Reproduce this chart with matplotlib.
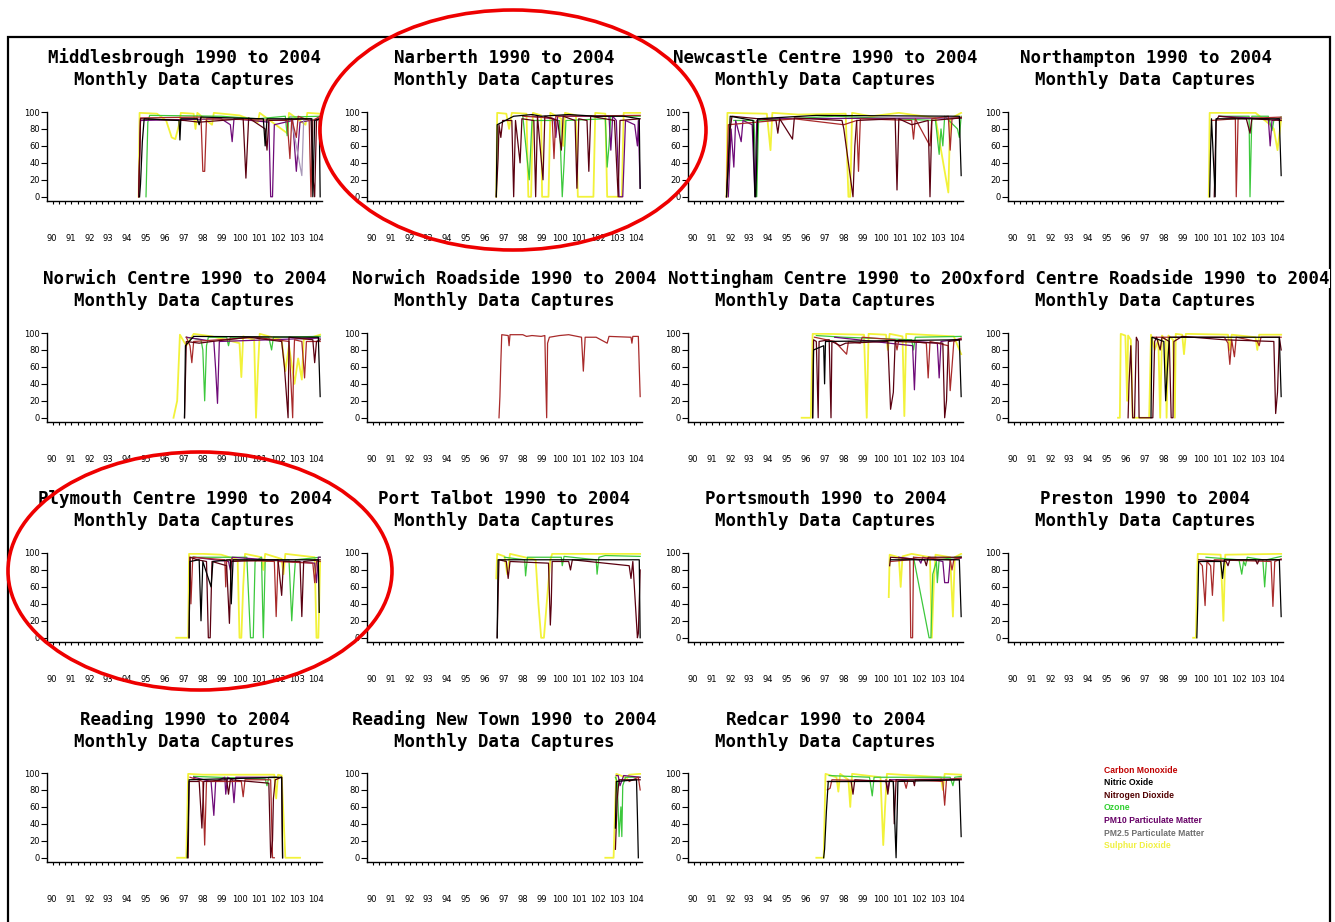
import matplotlib
matplotlib.use("Agg")
import matplotlib.pyplot as plt
from matplotlib.patches import Ellipse, Rectangle


STATIONS = ["Middlesbrough", "Narberth", "Newcastle Centre", "Northampton",
            "Norwich Centre", "Norwich Roadside", "Nottingham Centre", "Oxford Centre Roadside",
            "Plymouth Centre", "Port Talbot", "Portsmouth", "Preston",
            "Reading", "Reading New Town", "Redcar"]
YEAR_LABELS = ["90", "91", "92", "93", "94", "95", "96", "97", "98", "99",
               "100", "101", "102", "103", "104"]
Y_TICKS = [0, 20, 40, 60, 80, 100]

POLLUTANTS = ["CO", "NO", "NO2", "O3", "PM10", "PM25", "SO2"]
LEGEND_NAMES = ["Carbon Monoxide", "Nitric Oxide", "Nitrogen Dioxide", "Ozone",
                "PM10 Particulate Matter", "PM2.5 Particulate Matter", "Sulphur Dioxide"]
COLOURS = {"CO": "#a82a2a", "NO": "#000000", "NO2": "#5a0010", "O3": "#3cc83c",
           "PM10": "#6e0a78", "PM25": "#a898b8", "SO2": "#f2f23a"}
LEGEND_COLOURS = {"CO": "#c00000", "NO": "#000000", "NO2": "#500000", "O3": "#30d030",
                  "PM10": "#660066", "PM25": "#707070", "SO2": "#f0f040"}
DRAW_ORDER = ["SO2", "O3", "PM10", "PM25", "CO", "NO2", "NO"]

# monthly data capture (%) as (year, value) vertices
MIDDLESBROUGH = {
    "SO2": [(95.0, 0), (95.05, 99), (96.0, 98), (96.5, 90), (96.8, 70), (97.0, 68), (97.2, 85), (97.3, 99),
            (98.0, 98), (98.1, 80), (98.2, 99), (99.0, 85), (99.1, 99), (100.5, 96), (101.5, 88), (101.6, 99),
            (103.1, 75), (103.2, 99), (104.1, 85), (104.2, 99), (104.9, 98)],
    "O3": [(95.4, 0), (95.5, 88), (95.6, 96), (99.5, 95), (101.5, 92), (103.0, 95), (103.1, 72), (103.2, 94),
           (104.9, 95)],
    "PM10": [(95.0, 0), (95.1, 90), (99.5, 92), (100.0, 85), (100.1, 65), (100.2, 92), (102.1, 88), (102.2, 0),
             (102.3, 0), (102.4, 85), (103.4, 90), (103.6, 30), (103.8, 88), (104.9, 92)],
    "PM25": [(103.3, 95), (103.9, 25), (104.0, 90), (104.9, 92)],
    "CO": [(95.0, 0), (95.1, 93), (98.4, 94), (98.5, 30), (98.6, 30), (98.7, 92), (103.1, 90), (103.25, 45),
           (103.35, 92), (103.6, 70), (103.7, 95), (104.3, 90), (104.4, 0), (104.5, 90), (104.9, 95)],
    "NO2": [(95.0, 0), (95.1, 92), (97.5, 90), (98.3, 88), (100.7, 92), (100.85, 22), (101.0, 93), (101.9, 80),
            (102.0, 55), (102.1, 90), (104.4, 92), (104.5, 25), (104.6, 0), (104.7, 90), (104.9, 92)],
    "NO": [(95.05, 0), (95.1, 15), (95.2, 65), (95.3, 92), (97.2, 90), (97.25, 67), (97.3, 92), (98.2, 92),
           (98.3, 85), (98.4, 94), (101.8, 92), (101.9, 60), (102.0, 92), (104.45, 92), (104.5, 0),
           (104.6, 90), (104.85, 92), (104.9, 0)],
}
NARBERTH = {
    "SO2": [(97.05, 0), (97.1, 99), (97.6, 98), (97.75, 80), (97.9, 99), (98.7, 98), (98.8, 0), (98.95, 0),
            (99.05, 99), (99.5, 96), (99.55, 0), (99.9, 0), (100.0, 99), (100.6, 92), (100.7, 60), (100.8, 99),
            (101.4, 96), (101.5, 0), (102.35, 0), (102.45, 99), (103.0, 98), (103.1, 0), (103.9, 0),
            (104.0, 99), (104.9, 99)],
    "O3": [(98.5, 95), (98.85, 20), (99.0, 90), (100.5, 90), (100.65, 0), (100.75, 40), (100.85, 90),
           (103.0, 92), (103.1, 35), (103.2, 60), (103.3, 95), (104.9, 95)],
    "PM10": [(99.0, 95), (100.2, 92), (100.3, 70), (100.4, 95), (103.2, 95), (103.3, 55), (103.4, 95),
             (103.6, 90), (103.75, 0), (103.95, 0), (104.1, 90), (104.6, 85), (104.75, 60), (104.8, 90),
             (104.9, 10)],
    "CO": [(98.5, 95), (100.1, 93), (100.2, 45), (100.3, 95), (104.9, 96)],
    "NO2": [(97.05, 0), (97.15, 45), (97.2, 85), (97.3, 70), (97.4, 90), (97.9, 90), (98.0, 0), (98.1, 90),
            (98.35, 40), (98.45, 92), (99.1, 90), (99.2, 0), (99.3, 95), (99.6, 20), (99.7, 95), (100.4, 90),
            (100.6, 55), (100.7, 95), (101.35, 90), (101.45, 10), (101.55, 92), (102.0, 90), (102.1, 30),
            (102.2, 95), (103.5, 90), (103.7, 0), (103.8, 90), (104.9, 92)],
    "NO": [(97.05, 0), (97.1, 85), (98.0, 95), (99.0, 97), (99.5, 95), (101.0, 97), (102.5, 95), (104.0, 95),
           (104.85, 92), (104.9, 10)],
}
NEWCASTLE = {
    "SO2": [(92.1, 0), (92.15, 99), (94.3, 98), (94.5, 55), (94.6, 99), (96.0, 97), (98.6, 98), (98.75, 0),
            (98.85, 0), (98.95, 99), (100.0, 95), (101.5, 99), (103.5, 93), (104.2, 5), (104.3, 92),
            (104.9, 99)],
    "O3": [(92.5, 90), (93.6, 90), (93.75, 0), (93.85, 90), (98.0, 95), (103.5, 90), (103.7, 50), (103.8, 80),
           (103.9, 60), (104.0, 95), (104.7, 80), (104.8, 70), (104.9, 95)],
    "PM10": [(92.2, 0), (92.35, 80), (92.5, 35), (92.6, 90), (92.9, 65), (93.0, 90), (93.5, 85), (93.65, 0),
             (93.75, 90), (94.0, 92), (104.9, 93)],
    "CO": [(92.1, 0), (92.2, 85), (95.8, 92), (98.5, 85), (99.2, 90), (99.3, 30), (99.4, 92), (102.2, 90),
           (102.3, 68), (102.4, 92), (103.2, 60), (103.3, 92), (104.2, 95), (104.3, 55), (104.4, 92),
           (104.9, 94)],
    "NO2": [(92.1, 0), (92.2, 35), (92.3, 80), (92.4, 95), (94.8, 90), (94.9, 75), (95.0, 92), (95.7, 68),
            (95.8, 93), (98.4, 90), (98.5, 80), (99.0, 0), (99.1, 60), (99.2, 90), (101.3, 92), (101.4, 8),
            (101.5, 92), (102.2, 85), (103.1, 90), (103.2, 0), (103.3, 90), (104.9, 93)],
    "NO": [(92.1, 0), (92.15, 20), (92.2, 40), (92.3, 95), (93.55, 90), (93.65, 0), (93.7, 0), (93.8, 92),
           (97.0, 96), (104.8, 95), (104.9, 25)],
}
NORTHAMPTON = {
    "SO2": [(100.95, 0), (101.0, 99), (101.3, 99), (103.5, 99), (104.3, 85), (104.5, 80), (104.7, 55),
            (104.9, 92)],
    "O3": [(101.5, 95), (103.15, 95), (103.2, 0), (103.3, 95), (104.2, 95), (104.4, 78), (104.5, 90),
           (104.9, 94)],
    "PM10": [(101.5, 95), (104.2, 92), (104.3, 60), (104.4, 90), (104.9, 92)],
    "CO": [(101.1, 90), (102.4, 92), (102.45, 0), (102.55, 92), (104.9, 94)],
    "NO2": [(101.25, 0), (101.35, 90), (101.5, 95), (103.0, 92), (103.2, 75), (103.3, 92), (104.9, 90)],
    "NO": [(101.0, 0), (101.05, 55), (101.1, 92), (101.3, 0), (101.35, 92), (104.8, 92), (104.9, 25)],
}
NORWICH_CENTRE = {
    "SO2": [(96.9, 0), (97.1, 20), (97.25, 98), (97.6, 85), (98.0, 99), (99.0, 96), (100.5, 88), (100.6, 48),
            (100.7, 96), (101.3, 92), (101.4, 0), (101.5, 55), (101.6, 99), (102.8, 92), (103.0, 55),
            (103.2, 85), (103.5, 40), (103.7, 70), (103.9, 45), (104.0, 92), (104.9, 98)],
    "O3": [(97.6, 95), (98.4, 92), (98.5, 80), (98.6, 20), (98.7, 85), (98.8, 95), (99.8, 95), (99.9, 85),
           (100.0, 95), (102.1, 95), (102.25, 80), (102.35, 95), (104.9, 96)],
    "PM10": [(97.6, 95), (99.1, 90), (99.2, 57), (99.3, 17), (99.4, 90), (104.9, 94)],
    "CO": [(97.6, 95), (97.8, 85), (97.9, 65), (98.0, 90), (101.4, 95), (103.2, 90), (103.4, 0), (103.45, 60),
           (103.5, 92), (103.9, 90), (104.05, 47), (104.15, 90), (104.9, 90)],
    "NO2": [(97.5, 0), (97.6, 90), (98.3, 88), (99.0, 90), (101.0, 95), (102.8, 90), (102.95, 60),
            (103.15, 0), (103.2, 95), (104.5, 92), (104.6, 65), (104.7, 90), (104.9, 92)],
    "NO": [(97.5, 0), (97.55, 85), (98.0, 96), (104.8, 95), (104.9, 25)],
}
NORWICH_ROADSIDE = {
    "CO": [(97.2, 0), (97.25, 25), (97.3, 65), (97.35, 98), (97.7, 97), (97.75, 85), (97.8, 98), (98.5, 98),
           (98.7, 96), (99.0, 97), (99.5, 96), (99.7, 97), (99.75, 45), (99.8, 0), (99.85, 88), (99.95, 95),
           (100.5, 97), (101.0, 98), (101.7, 95), (101.8, 55), (101.85, 75), (101.9, 95), (102.5, 95),
           (103.1, 88), (103.2, 96), (104.4, 95), (104.45, 88), (104.5, 96), (104.8, 96), (104.85, 60),
           (104.9, 25)],
}
NOTTINGHAM = {
    "SO2": [(96.2, 0), (96.7, 0), (96.8, 99), (97.5, 99), (99.6, 98), (99.75, 0), (99.85, 99), (100.8, 98),
            (100.9, 80), (101.0, 99), (101.7, 96), (101.8, 2), (101.9, 99), (104.5, 96), (104.9, 75)],
    "O3": [(97.0, 97), (98.5, 95), (102.2, 92), (102.3, 80), (102.4, 95), (104.9, 96)],
    "PM10": [(98.0, 95), (102.25, 85), (102.35, 33), (102.45, 90), (103.6, 88), (103.7, 47), (103.8, 90),
             (104.9, 93)],
    "CO": [(96.9, 95), (98.0, 90), (98.65, 75), (98.75, 90), (99.4, 88), (99.5, 95), (101.3, 92), (101.4, 80),
           (101.5, 92), (103.0, 88), (103.1, 47), (103.2, 90), (104.2, 85), (104.3, 32), (104.4, 60),
           (104.5, 90), (104.9, 94)],
    "NO2": [(96.8, 0), (96.85, 92), (97.0, 90), (97.1, 0), (97.15, 90), (97.7, 92), (97.8, 0), (97.85, 90),
            (98.3, 85), (98.6, 88), (100.9, 90), (101.05, 10), (101.2, 30), (101.3, 90), (103.9, 88),
            (104.0, 0), (104.1, 20), (104.2, 90), (104.9, 92)],
    "NO": [(96.8, 0), (96.85, 80), (97.4, 85), (97.45, 40), (97.5, 90), (104.8, 92), (104.9, 25)],
}
OXFORD = {
    "SO2": [(96.0, 0), (96.1, 0), (96.15, 99), (96.4, 97), (96.5, 20), (96.55, 97), (96.7, 92), (96.8, 0),
            (97.7, 0), (97.8, 98), (98.0, 80), (98.2, 92), (98.3, 0), (98.4, 97), (98.6, 92), (98.65, 0),
            (98.75, 97), (99.0, 92), (99.1, 0), (99.15, 99), (99.5, 98), (99.6, 75), (99.7, 99), (102.0, 98),
            (102.1, 80), (102.2, 98), (103.5, 95), (103.6, 80), (103.7, 98), (104.9, 98)],
    "CO": [(97.9, 95), (101.8, 95), (102.0, 88), (102.1, 63), (102.2, 92), (102.35, 72), (102.45, 95),
           (103.6, 90), (103.7, 85), (103.8, 95), (104.9, 95)],
    "NO2": [(96.55, 0), (96.6, 40), (96.7, 85), (96.8, 0), (96.9, 0), (97.0, 95), (97.1, 90), (97.15, 0),
            (97.9, 0), (98.0, 90), (98.1, 95), (98.3, 80), (98.4, 95), (98.8, 90), (98.9, 0), (99.0, 0),
            (99.05, 90), (99.5, 96), (101.8, 92), (104.5, 90), (104.6, 5), (104.7, 30), (104.8, 95),
            (104.9, 80)],
    "NO": [(97.8, 0), (97.85, 95), (98.5, 90), (98.6, 20), (98.7, 60), (98.8, 95), (104.8, 95), (104.9, 25)],
}
PLYMOUTH = {
    "SO2": [(97.05, 0), (97.7, 0), (97.75, 99), (98.5, 99), (99.5, 98), (100.4, 92), (100.5, 0), (100.6, 0),
            (100.7, 60), (100.8, 99), (101.7, 95), (101.8, 80), (101.9, 99), (102.8, 93), (102.9, 75),
            (103.0, 99), (104.6, 95), (104.7, 0), (104.8, 0), (104.9, 90)],
    "O3": [(97.9, 95), (100.9, 95), (101.1, 0), (101.25, 0), (101.35, 90), (101.7, 95), (101.8, 0),
           (101.9, 90), (103.2, 92), (103.35, 20), (103.45, 60), (103.55, 92), (104.9, 95)],
    "PM10": [(98.0, 95), (99.9, 90), (100.0, 80), (100.1, 95), (104.6, 88), (104.7, 65), (104.8, 95),
             (104.9, 95)],
    "CO": [(97.8, 95), (97.85, 40), (97.95, 95), (99.7, 92), (99.75, 60), (99.8, 92), (102.4, 90),
           (102.5, 25), (102.6, 90), (104.5, 88), (104.6, 65), (104.7, 90), (104.9, 90)],
    "NO2": [(97.75, 0), (97.8, 95), (98.2, 92), (98.7, 90), (98.8, 0), (98.9, 0), (99.0, 90), (99.8, 85),
            (99.95, 17), (100.05, 90), (102.6, 92), (102.8, 50), (102.9, 90), (103.8, 90), (103.9, 25),
            (104.0, 90), (104.9, 92)],
    "NO": [(97.75, 0), (97.8, 90), (98.3, 92), (98.4, 20), (98.5, 90), (98.95, 60), (99.05, 90), (100.0, 92),
           (100.05, 40), (100.15, 92), (104.8, 92), (104.85, 30)],
}
PORT_TALBOT = {
    "SO2": [(97.05, 70), (97.1, 99), (97.5, 96), (97.65, 75), (97.8, 99), (99.2, 92), (99.35, 40), (99.5, 0),
            (99.65, 0), (99.8, 40), (100.0, 92), (100.1, 99), (104.9, 99)],
    "O3": [(97.5, 95), (98.6, 92), (98.65, 73), (98.75, 95), (100.6, 95), (100.65, 85), (100.75, 96),
           (102.5, 92), (102.55, 75), (102.65, 95), (103.0, 97), (104.9, 96)],
    "NO2": [(97.1, 0), (97.15, 50), (97.2, 92), (97.6, 90), (97.7, 70), (97.8, 90), (99.9, 88), (100.0, 15),
            (100.05, 40), (100.1, 90), (101.0, 90), (101.1, 80), (101.2, 92), (104.3, 85), (104.4, 70),
            (104.5, 90), (104.75, 0), (104.8, 5), (104.9, 80)],
    "NO": [(97.1, 0), (97.15, 92), (104.85, 92), (104.9, 0)],
}
PORTSMOUTH = {
    "SO2": [(100.95, 48), (101.0, 98), (101.5, 95), (101.6, 60), (101.7, 96), (102.2, 99), (103.2, 95),
            (103.3, 0), (103.4, 60), (103.5, 98), (104.3, 95), (104.45, 25), (104.55, 95), (104.9, 99)],
    "O3": [(102.3, 95), (103.15, 0), (103.25, 0), (103.35, 75), (103.55, 90), (103.6, 65), (103.7, 92),
           (104.9, 96)],
    "PM10": [(101.5, 95), (102.6, 92), (102.7, 88), (102.8, 95), (103.9, 90), (104.0, 65), (104.2, 65),
             (104.3, 92), (104.9, 94)],
    "CO": [(101.05, 90), (102.1, 92), (102.15, 0), (102.25, 0), (102.3, 95), (104.3, 92), (104.4, 80),
           (104.5, 92), (104.9, 95)],
    "NO2": [(101.0, 85), (101.05, 95), (102.9, 92), (103.0, 85), (103.1, 95), (104.9, 95)],
    "NO": [(101.05, 92), (104.8, 92), (104.9, 25)],
}
PRESTON = {
    "SO2": [(100.1, 0), (100.25, 0), (100.35, 99), (101.6, 98), (101.75, 20), (101.85, 98), (104.9, 99)],
    "O3": [(100.8, 95), (102.6, 92), (102.75, 75), (102.85, 90), (102.95, 85), (103.05, 95), (103.9, 92),
           (104.0, 60), (104.1, 92), (104.9, 96)],
    "CO": [(100.4, 90), (100.6, 85), (100.75, 38), (100.85, 90), (101.05, 85), (101.15, 50), (101.25, 92),
           (104.35, 90), (104.45, 37), (104.55, 90), (104.9, 93)],
    "NO2": [(100.4, 92), (101.9, 90), (102.0, 85), (102.1, 92), (103.5, 92), (103.6, 87), (103.7, 92),
            (104.9, 92)],
    "NO": [(100.3, 0), (100.35, 40), (100.4, 90), (101.6, 90), (101.7, 70), (101.8, 92), (104.8, 92),
           (104.9, 25)],
}
READING = {
    "SO2": [(97.1, 0), (97.6, 0), (97.7, 99), (98.5, 98), (102.4, 98), (102.5, 70), (102.6, 98), (102.8, 97),
            (103.0, 0), (103.8, 0)],
    "O3": [(98.0, 96), (101.9, 93), (102.0, 85), (102.1, 95), (102.5, 95)],
    "PM10": [(98.0, 95), (98.95, 90), (99.1, 50), (99.2, 90), (99.7, 95), (99.75, 75), (99.85, 95),
             (100.1, 92), (100.2, 65), (100.3, 95), (102.5, 95)],
    "CO": [(97.8, 95), (98.5, 90), (98.6, 15), (98.7, 90), (100.6, 90), (100.7, 72), (100.8, 92), (102.2, 92),
           (102.3, 0), (102.4, 0)],
    "NO2": [(97.7, 0), (97.75, 90), (98.3, 90), (98.45, 35), (98.55, 90), (99.8, 92), (99.9, 75), (100.0, 92),
            (102.1, 88), (102.2, 0), (102.3, 20), (102.35, 70), (102.45, 92), (102.8, 95), (102.85, 0)],
    "NO": [(97.65, 0), (97.7, 35), (97.75, 92), (102.8, 95), (102.85, 0)],
}
READING_NEW_TOWN = {
    "SO2": [(103.0, 0), (103.45, 0), (103.55, 70), (103.6, 99), (104.2, 94), (104.3, 98), (104.9, 99)],
    "O3": [(103.55, 95), (103.65, 90), (103.75, 25), (103.85, 60), (103.9, 25), (103.95, 85), (104.1, 95),
           (104.9, 95)],
    "PM10": [(103.6, 97), (103.7, 97), (103.8, 85), (104.0, 97), (104.9, 95)],
    "CO": [(104.3, 90), (104.8, 95), (104.9, 80)],
    "NO2": [(103.55, 10), (103.65, 70), (103.75, 92), (104.9, 92)],
    "NO": [(103.55, 35), (103.6, 90), (104.7, 92), (104.75, 50), (104.8, 0)],
}
REDCAR = {
    "SO2": [(97.0, 0), (97.4, 0), (97.5, 99), (98.1, 95), (98.2, 78), (98.3, 99), (98.75, 92), (98.85, 60),
            (98.95, 99), (100.5, 95), (100.65, 15), (100.75, 60), (100.85, 99), (103.8, 95), (103.9, 80),
            (104.0, 99), (104.9, 98)],
    "O3": [(97.7, 97), (99.9, 95), (100.05, 73), (100.15, 95), (104.3, 95), (104.45, 85), (104.55, 95),
           (104.9, 96)],
    "PM10": [(100.8, 92), (100.9, 80), (101.0, 92), (104.9, 93)],
    "CO": [(97.6, 80), (97.75, 82), (97.85, 92), (101.8, 90), (101.9, 82), (102.0, 92), (103.9, 90),
           (104.0, 62), (104.1, 92), (104.9, 94)],
    "NO2": [(97.6, 90), (98.9, 90), (99.0, 75), (99.1, 92), (100.8, 90), (100.9, 75), (101.0, 92),
            (101.2, 90), (101.25, 40), (101.35, 92), (102.3, 90), (102.35, 85), (102.4, 92), (104.9, 92)],
    "NO": [(97.4, 0), (97.45, 10), (97.55, 55), (97.65, 90), (101.2, 90), (101.3, 30), (101.35, 0),
           (101.45, 90), (104.8, 92), (104.9, 25)],
}

PANELS = [MIDDLESBROUGH, NARBERTH, NEWCASTLE, NORTHAMPTON,
          NORWICH_CENTRE, NORWICH_ROADSIDE, NOTTINGHAM, OXFORD,
          PLYMOUTH, PORT_TALBOT, PORTSMOUTH, PRESTON,
          READING, READING_NEW_TOWN, REDCAR]

W, H = 1335, 922
COL_X = [47, 367, 688, 1008]
ROW_TOP = [112, 333, 553, 773]
AX_W, AX_H = 275, 89

fig = plt.figure(figsize=(W / 100, H / 100), dpi=100)
fig.patch.set_facecolor("white")

# frame round the page
fig.patches.append(Rectangle((8 / W, -0.05), 1322 / W, 1.05 - 37 / H, transform=fig.transFigure,
                             fill=False, edgecolor="black", linewidth=1.6))

label_pos = [90.25 + k * 1.03 for k in range(len(YEAR_LABELS))]

for i, (name, data) in enumerate(zip(STATIONS, PANELS)):
    r, c = divmod(i, 4)
    left = COL_X[c] / W
    bottom = 1 - (ROW_TOP[r] + AX_H) / H
    ax = fig.add_axes([left, bottom, AX_W / W, AX_H / H])
    for key in DRAW_ORDER:
        if key in data:
            xs = [p[0] for p in data[key]]
            ys = [p[1] for p in data[key]]
            lw = 1.3 if key == "SO2" else 0.9
            ax.plot(xs, ys, color=COLOURS[key], linewidth=lw)
    ax.set_xlim(90, 105)
    ax.set_ylim(-5, 100)
    for side in ("top", "right"):
        ax.spines[side].set_visible(False)
    ax.spines["left"].set_linewidth(1.0)
    ax.spines["bottom"].set_linewidth(1.0)
    ax.set_yticks(Y_TICKS)
    ax.set_yticklabels([str(v) for v in Y_TICKS], fontsize=6, family="DejaVu Sans")
    ax.tick_params(axis="y", length=4, width=0.8, pad=1)
    ax.set_xticks(label_pos)
    ax.set_xticklabels(YEAR_LABELS, fontsize=6, family="DejaVu Sans")
    ax.tick_params(axis="x", which="major", length=0, pad=24)
    ax.set_xticks([90 + k / 3 for k in range(1, 45)], minor=True)
    ax.tick_params(axis="x", which="minor", length=2.5, width=0.8, direction="out")
    ax.set_facecolor("none")

    cx = (COL_X[c] + AX_W / 2) / W
    y1 = 1 - (58 + r * 220.5) / H
    y2 = 1 - (80 + r * 220.5) / H
    fig.text(cx, y1, f"{name} 1990 to 2004", ha="center", va="center", fontsize=12.5,
             family="DejaVu Sans Mono", weight="bold",
             bbox=dict(facecolor="white", edgecolor="none", pad=0.5))
    fig.text(cx, y2, "Monthly Data Captures", ha="center", va="center", fontsize=12.5,
             family="DejaVu Sans Mono", weight="bold")

# legend as coloured text
for j, (key, label) in enumerate(zip(POLLUTANTS, LEGEND_NAMES)):
    fig.text(1104 / W, 1 - (770 + j * 12.6) / H, label, color=LEGEND_COLOURS[key],
             fontsize=6.2, family="Liberation Sans", weight="bold", va="center", ha="left")

# red ellipses drawn over the page
for (ex, ey, ew, eh) in [(513, 130, 386, 240), (200, 571, 384, 238)]:
    fig.patches.append(Ellipse((ex / W, 1 - ey / H), ew / W, eh / H, transform=fig.transFigure,
                               fill=False, edgecolor="#ee0000", linewidth=2.6, zorder=10))

fig.savefig("out.png", dpi=100)
